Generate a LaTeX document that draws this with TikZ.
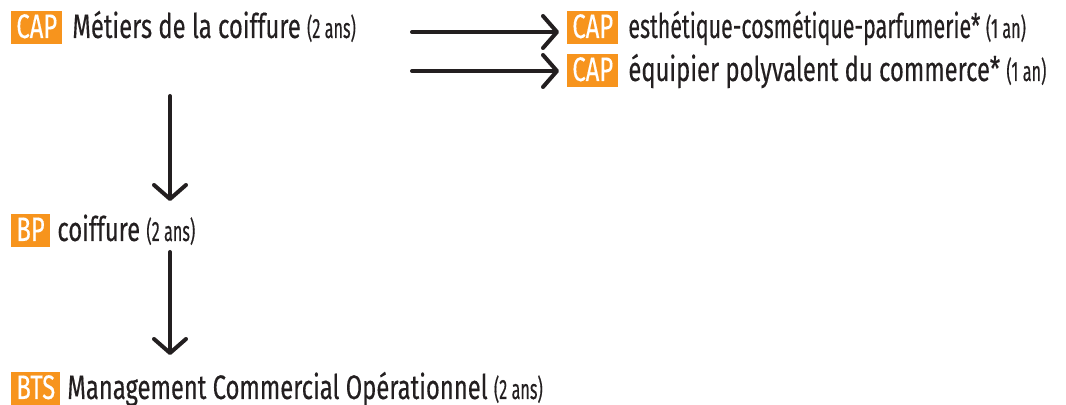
\documentclass[tikz,border=0pt]{standalone}
\usepackage{fontspec}
\setmainfont[FakeStretch=0.7,FakeBold=0.3]{Fira Sans}
\newfontfamily\durfont[FakeStretch=0.58,FakeBold=0.3]{Fira Sans}
\newfontfamily\tightfont[FakeStretch=0.63,FakeBold=0.3]{Fira Sans}
\usetikzlibrary{arrows.meta,positioning}
\definecolor{tagorange}{HTML}{F7941D}
\definecolor{inkdark}{HTML}{231F20}
\newcommand\dur[1]{{\durfont\fontsize{14}{16}\selectfont(#1)}}

\begin{document}
\begin{tikzpicture}
  [x=0.5pt,y=-0.5pt,
   every node/.style={inner sep=0pt,text=inkdark,anchor=base west,font=\fontsize{17}{19}\selectfont},
   tag/.style={fill=tagorange,text=white,inner xsep=2.5pt,text height=13.3pt,text depth=2.9pt},
   link/.style={line width=2pt,draw=inkdark,line cap=round,-{Straight Barb[length=7pt,width=16pt,line cap=round,line join=round]}}]
  \useasboundingbox (0,0) rectangle (1066,405);
  % entries
  \node[tag] (ta) at (11,38) {CAP};
  \node (na) at (72,38) {Métiers de la coiffure \dur{2 ans}};
  \node[tag] (tb) at (567,38) {CAP};
  \node (nb) at (628,38) {\tightfont esthétique-cosmétique-parfumerie* \dur{1 an}};
  \node[tag] (tc) at (567,81) {CAP};
  \node (nc) at (628,81) {équipier polyvalent du commerce* \dur{1 an}};
  \node[tag] (td) at (11,241) {BP};
  \node (nd) at (57,241) {coiffure \dur{2 ans}};
  \node[tag] (te) at (11,399) {BTS};
  \node (ne) at (67,399) {Management Commercial Opérationnel \dur{2 ans}};
  % free ends of the arrows
  \coordinate (ca) at (412,32);
  \coordinate (cb) at (412,71);
  \coordinate (cc) at (170,96);
  \coordinate (cd) at (170,201);
  \coordinate (ce) at (170,252);
  \coordinate (cf) at (170,355);
  \foreach \from/\to in {ca/tb,cb/tc}
    \draw[link,shorten >=4pt] (\from) -- (\from -| \to.west);
  \foreach \from/\to in {cc/cd,ce/cf}
    \draw[link] (\from) -- (\to);
\end{tikzpicture}
\end{document}
